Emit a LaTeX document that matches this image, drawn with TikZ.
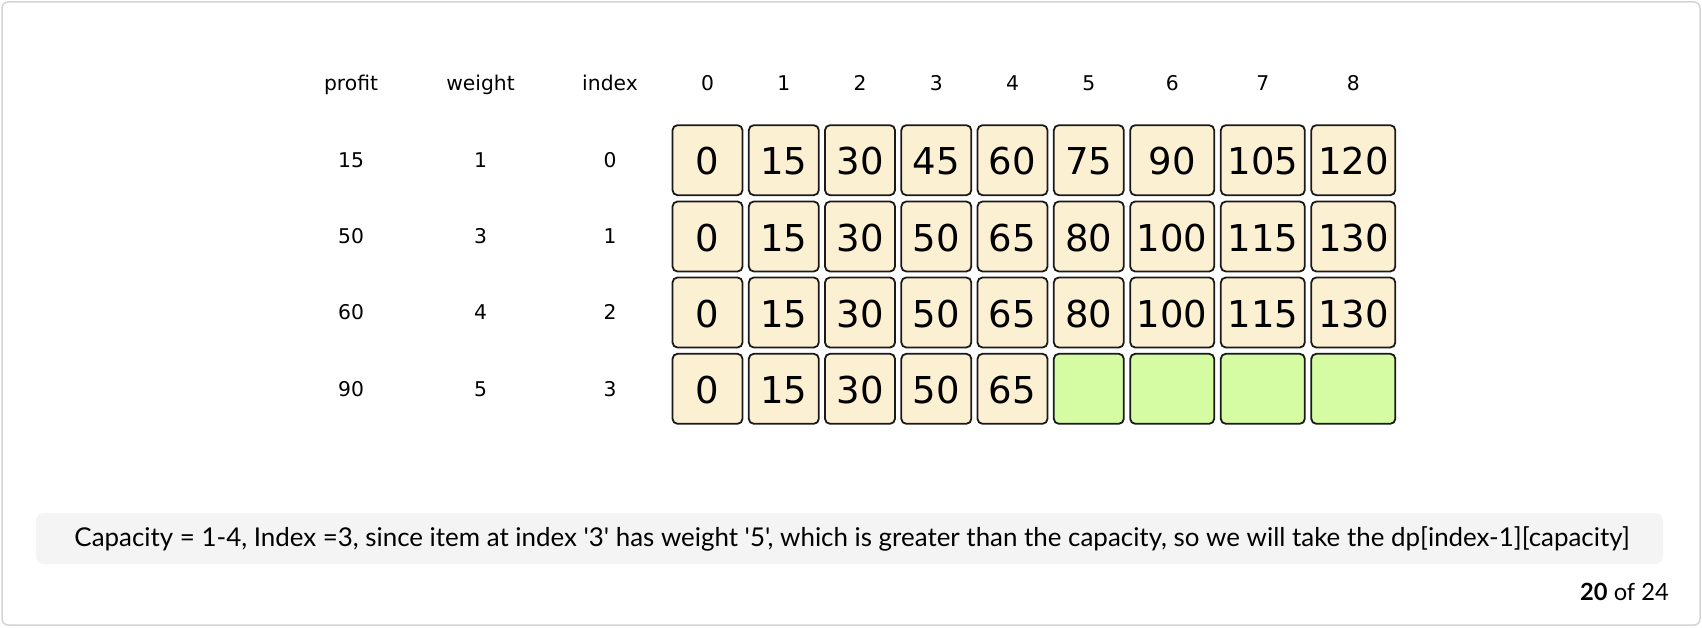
\documentclass[tikz,border=0pt]{standalone}
\usepackage{fontspec}
\setmainfont{DejaVu Sans}
\newfontfamily\capfont{Lato}
\definecolor{cream}{HTML}{FCF0D2}
\definecolor{lgreen}{HTML}{D5FBA3}
\definecolor{cellline}{HTML}{1A1A1A}
\definecolor{capbg}{HTML}{F4F4F4}
\definecolor{frame}{HTML}{D4D4D4}
\begin{document}
\begin{tikzpicture}[x=1pt,y=-1pt,
  cellbox/.style={draw=cellline,line width=1.8pt,rounded corners=5pt,fill=cream,
    minimum height=70pt,inner sep=0pt,font=\fontsize{36.6}{40}\selectfont},
  narrow/.style={minimum width=70pt},
  wide/.style={minimum width=84pt},
  empty/.style={fill=lgreen},
  hdr/.style={anchor=base,inner sep=0pt,font=\fontsize{20.3}{22}\selectfont},
  celltext/.style={anchor=base,inner sep=0pt,font=\fontsize{37}{40}\selectfont}]
\useasboundingbox (0,0) rectangle (1702,628);
\draw[frame,line width=1.5pt,rounded corners=6pt] (2,2) rectangle (1700,625);

% headers
\node[hdr] (hp) at (351,91) {profit};
\node[hdr] (hw) at (480.5,91) {weight};
\node[hdr] (hi) at (610,91) {index};
\foreach \i/\x in {0/707.5,1/783.8,2/860,3/936.3,4/1012.5,5/1088.8,6/1172.2,7/1262.8,8/1353.3}{
  \node[hdr] (h\i) at (\x,91) {\i};
}

% left columns
\foreach \r/\y/\p/\w in {0/167.4/15/1,1/243.7/50/3,2/319.7/60/4,3/396/90/5}{
  \node[hdr] (p\r) at (351,\y) {\p};
  \node[hdr] (w\r) at (480.5,\y) {\w};
  \node[hdr] (i\r) at (610,\y) {\r};
}

% cells
\foreach \r/\y/\va/\vb/\vc/\vd/\ve/\vf/\vg/\vh/\vi in {
  0/160.2/0/15/30/45/60/75/90/105/120,
  1/236.5/0/15/30/50/65/80/100/115/130,
  2/312.5/0/15/30/50/65/80/100/115/130}{
  \node[cellbox,narrow] (c\r-0) at (707.5,\y) {};
  \node[cellbox,narrow] (c\r-1) at (783.8,\y) {};
  \node[cellbox,narrow] (c\r-2) at (860,\y) {};
  \node[cellbox,narrow] (c\r-3) at (936.3,\y) {};
  \node[cellbox,narrow] (c\r-4) at (1012.5,\y) {};
  \node[cellbox,narrow] (c\r-5) at (1088.8,\y) {};
  \node[cellbox,wide] (c\r-6) at (1172.2,\y) {};
  \node[cellbox,wide] (c\r-7) at (1262.8,\y) {};
  \node[cellbox,wide] (c\r-8) at (1353.3,\y) {};
  \node[celltext] (t\r-0) at ([yshift=-14.8pt]c\r-0.center) {\va};
  \node[celltext] (t\r-1) at ([yshift=-14.8pt]c\r-1.center) {\vb};
  \node[celltext] (t\r-2) at ([yshift=-14.8pt]c\r-2.center) {\vc};
  \node[celltext] (t\r-3) at ([yshift=-14.8pt]c\r-3.center) {\vd};
  \node[celltext] (t\r-4) at ([yshift=-14.8pt]c\r-4.center) {\ve};
  \node[celltext] (t\r-5) at ([yshift=-14.8pt]c\r-5.center) {\vf};
  \node[celltext] (t\r-6) at ([yshift=-14.8pt]c\r-6.center) {\vg};
  \node[celltext] (t\r-7) at ([yshift=-14.8pt]c\r-7.center) {\vh};
  \node[celltext] (t\r-8) at ([yshift=-14.8pt]c\r-8.center) {\vi};
}
% last row
\node[cellbox,narrow] (c3-0) at (707.5,388.8) {};
\node[cellbox,narrow] (c3-1) at (783.8,388.8) {};
\node[cellbox,narrow] (c3-2) at (860,388.8) {};
\node[cellbox,narrow] (c3-3) at (936.3,388.8) {};
\node[cellbox,narrow] (c3-4) at (1012.5,388.8) {};
\node[cellbox,narrow,empty] (c3-5) at (1088.8,388.8) {};
\node[cellbox,wide,empty] (c3-6) at (1172.2,388.8) {};
\node[cellbox,wide,empty] (c3-7) at (1262.8,388.8) {};
\node[cellbox,wide,empty] (c3-8) at (1353.3,388.8) {};
\foreach \c/\v in {0/0,1/15,2/30,3/50,4/65}{
  \node[celltext] (t3-\c) at ([yshift=-14.8pt]c3-\c.center) {\v};
}

% caption
\fill[capbg,rounded corners=8pt] (36,513) rectangle (1663,564);
\node[anchor=base,inner sep=0pt,font=\capfont\fontsize{25.9}{30}\selectfont] (cap) at (852,546.7)
  {Capacity = 1-4, Index =3, since item at index '3' has weight '5', which is greater than the capacity, so we will take the dp[index-1][capacity]};
\node[anchor=base east,inner sep=0pt,font=\capfont\fontsize{23.7}{28}\selectfont] (pg) at (1669,600)
  {\textbf{20} of 24};
\end{tikzpicture}
\end{document}
